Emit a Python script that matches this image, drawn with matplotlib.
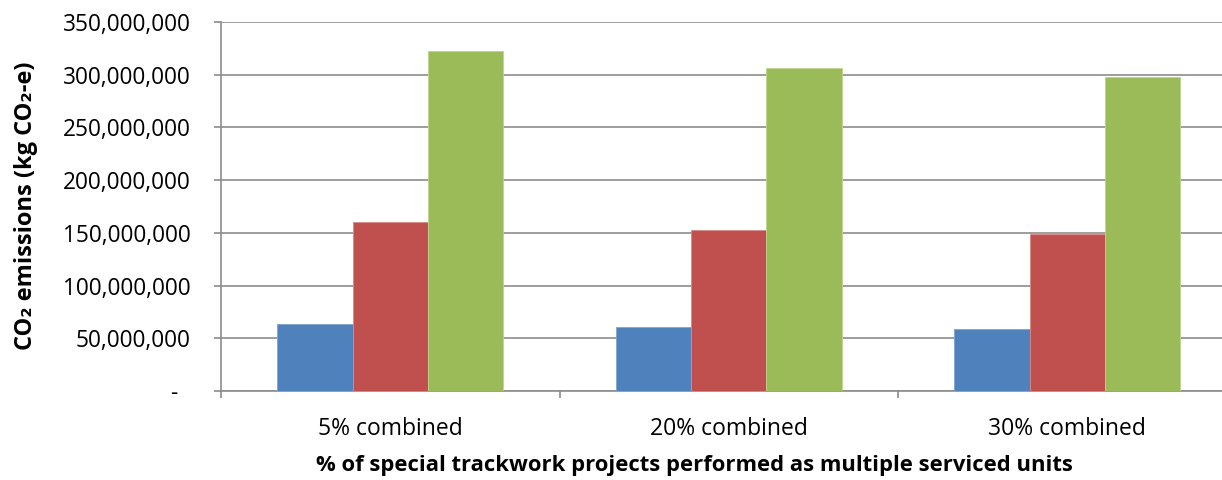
import matplotlib
matplotlib.use("Agg")
import matplotlib.pyplot as plt
import numpy as np
from matplotlib.ticker import FuncFormatter, MultipleLocator

# Scenario categories on the x axis
categories = ["5% combined", "20% combined", "30% combined"]

# CO2 emissions (kg CO2-e) for the three series in each scenario
series_blue = [63_600_000, 60_400_000, 58_500_000]
series_red = [160_600_000, 152_400_000, 148_600_000]
series_green = [322_500_000, 306_100_000, 298_100_000]

colors = ["#4F81BD", "#C0504D", "#9BBB59"]
edge_colors = ["#7FA3D0", "#D88A88", "#BDD48C"]

plt.rcParams["font.family"] = ["Open Sans", "DejaVu Sans"]

fig = plt.figure(figsize=(12.22, 4.8), dpi=100)
# The plot area runs slightly past the right edge of the figure
ax = fig.add_axes([221 / 1222, 89 / 480, 1015.5 / 1222, 369 / 480])

x = np.arange(len(categories))
width = 1 / 4.5
for i, (vals, c, ec) in enumerate(zip([series_blue, series_red, series_green], colors, edge_colors)):
    ax.bar(x + (i - 1) * width, vals, width, color=c, edgecolor=ec, linewidth=0.6, zorder=3)

ax.set_xlim(-0.5, len(categories) - 0.5)
ax.set_ylim(0, 350_000_000)
ax.yaxis.set_major_locator(MultipleLocator(50_000_000))


def fmt(v, pos):
    if v == 0:
        return "-  "
    return f"{int(v):,}"


ax.yaxis.set_major_formatter(FuncFormatter(fmt))
ax.grid(axis="y", color="#8C8C8C", linewidth=1.2, zorder=0)
ax.set_axisbelow(True)

for s in ["top", "right"]:
    ax.spines[s].set_visible(False)
for s in ["left", "bottom"]:
    ax.spines[s].set_color("#8C8C8C")
    ax.spines[s].set_linewidth(1.2)

ax.set_xticks(x)
ax.set_xticklabels(categories)
ax.set_xticks(np.arange(len(categories) + 1) - 0.5, minor=True)
ax.tick_params(axis="x", which="major", length=0, pad=19, labelsize=16.5, labelcolor="black")
ax.tick_params(axis="x", which="minor", length=5, width=1.2, color="#8C8C8C")
ax.tick_params(axis="y", length=5, width=1.2, color="#8C8C8C", labelsize=16.3, pad=17)

fig.text(26 / 1222, 274 / 480, "CO₂ emissions (kg CO₂-e)", rotation=90,
         fontsize=17, fontweight="bold", ha="center", va="center")
fig.text(694 / 1222, 14 / 480,
         "% of special trackwork projects performed as multiple serviced units",
         fontsize=15.8, fontweight="bold", ha="center", va="center")

fig.savefig("out.png", dpi=100)
